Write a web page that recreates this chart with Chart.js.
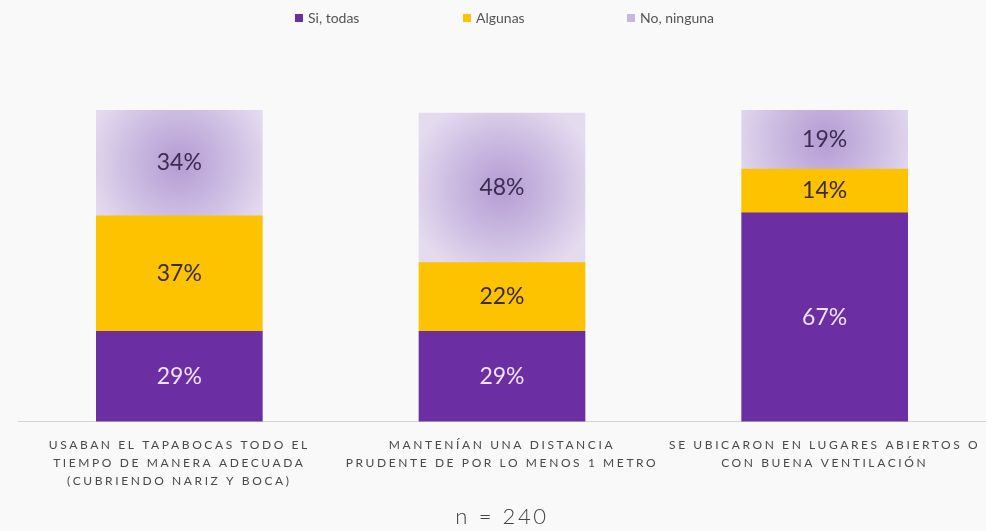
<!DOCTYPE html>
<html>
<head>
<meta charset="utf-8">
<script src="https://cdn.jsdelivr.net/npm/chart.js@4/dist/chart.umd.min.js"></script>
<style>
  html, body { margin: 0; padding: 0; background: #f9f9f9; }
  #wrap { width: 986px; height: 531px; position: relative; }
</style>
</head>
<body>
<div id="wrap"><canvas id="chart"></canvas></div>
<script>
// data
const categories = [
  ['USABAN EL TAPABOCAS TODO EL', 'TIEMPO DE MANERA ADECUADA', '(CUBRIENDO NARIZ Y BOCA)'],
  ['MANTENÍAN UNA DISTANCIA', 'PRUDENTE DE POR LO MENOS 1 METRO'],
  ['SE UBICARON EN LUGARES ABIERTOS O', 'CON BUENA VENTILACIÓN']
];
const siTodas = [29, 29, 67];
const algunas = [37, 22, 14];
const noNinguna = [34, 48, 19];
const seriesNames = ['Si, todas', 'Algunas', 'No, ninguna'];
const sampleNote = 'n = 240';

const PURPLE = '#6b2fa3';
const YELLOW = '#fdc200';
const LAVENDER = '#dcd0ea';

// soft radial glow on the top segment, placed with the chart's own scales
function lavenderFill(ctx) {
  const chart = ctx.chart;
  const xs = chart.scales.x, ys = chart.scales.y;
  if (!xs || !ys || ctx.dataIndex === undefined) return LAVENDER;
  const i = ctx.dataIndex;
  const cx = xs.getPixelForValue(i);
  const top = ys.getPixelForValue(siTodas[i] + algunas[i] + noNinguna[i]);
  const bot = ys.getPixelForValue(siTodas[i] + algunas[i]);
  if (!isFinite(cx) || !isFinite(top)) return LAVENDER;
  const cy = (top + bot) / 2;
  const g = chart.ctx.createRadialGradient(cx, cy, 0, cx, cy, 95);
  g.addColorStop(0, '#b59bd3');
  g.addColorStop(0.55, '#cdbde2');
  g.addColorStop(1, '#e4dbef');
  return g;
}

const legendPlugin = {
  id: 'topLegend',
  afterDraw(chart, args, opts) {
    const c = chart.ctx;
    c.save();
    c.letterSpacing = '0px';
    c.font = '14px Lato, "Open Sans", sans-serif';
    c.textBaseline = 'middle';
    chart.data.datasets.forEach((ds, k) => {
      const x = opts.xs[k];
      c.fillStyle = opts.boxColors[k];
      c.fillRect(x, opts.y - 4, 8, 8);
      c.fillStyle = '#555';
      c.fillText(ds.label, x + 13, opts.y);
    });
    c.restore();
  }
};

const labelPlugin = {
  id: 'segLabels',
  beforeDraw(chart) {
    // letter-spaced axis labels like the original
    chart.ctx.letterSpacing = '2.6px';
  },
  afterDatasetsDraw(chart, args, opts) {
    const c = chart.ctx;
    c.save();
    c.letterSpacing = '0px';
    c.font = '23px Lato, "Open Sans", sans-serif';
    c.textAlign = 'center';
    c.textBaseline = 'middle';
    chart.data.datasets.forEach((ds, k) => {
      chart.getDatasetMeta(k).data.forEach((bar, i) => {
        c.fillStyle = opts.colors[k];
        c.fillText(ds.data[i] + '%', bar.x, (bar.y + bar.base) / 2);
      });
    });
    c.restore();
  }
};

new Chart(document.getElementById('chart'), {
  type: 'bar',
  data: {
    labels: categories,
    datasets: [
      { label: seriesNames[0], data: siTodas, backgroundColor: PURPLE },
      { label: seriesNames[1], data: algunas, backgroundColor: YELLOW },
      { label: seriesNames[2], data: noNinguna, backgroundColor: lavenderFill }
    ]
  },
  options: {
    responsive: true,
    maintainAspectRatio: false,
    animation: false,
    layout: { padding: { top: 110, left: 18, right: 0, bottom: 1 } },
    datasets: { bar: { barThickness: 166 } },
    scales: {
      x: {
        stacked: true,
        grid: { display: false },
        border: { display: true, color: '#d4d4d4', width: 1 },
        ticks: {
          autoSkip: false, maxRotation: 0, padding: 7,
          color: '#4a4a4a',
          font: { family: 'Lato, "Open Sans", sans-serif', size: 12, lineHeight: 1.5 }
        }
      },
      y: { stacked: true, display: false, min: 0, max: 100 }
    },
    plugins: {
      legend: { display: false },
      tooltip: { enabled: false },
      title: {
        display: true, position: 'bottom', text: sampleNote,
        color: '#444', padding: { top: 6, bottom: 0 },
        font: { family: 'Lato, "Open Sans", sans-serif', size: 22, weight: '300', lineHeight: 1.2 }
      },
      topLegend: { y: 18, xs: [295, 463, 627], boxColors: [PURPLE, YELLOW, '#c7b6df'] },
      segLabels: { colors: ['#efe4fb', '#3a2a3a', '#3b2d52'] }
    }
  },
  plugins: [legendPlugin, labelPlugin]
});
</script>
</body>
</html>
